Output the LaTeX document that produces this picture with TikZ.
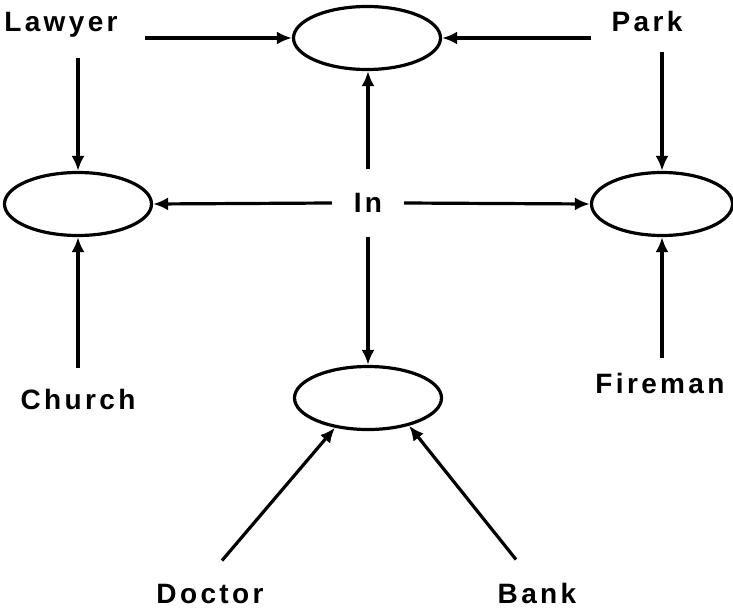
\documentclass[tikz,border=0pt]{standalone}
\usepackage{fontspec}
\setmainfont{Liberation Sans}[LetterSpace=12]
\usetikzlibrary{shapes.geometric,arrows.meta}
\begin{document}
\begin{tikzpicture}[x=1pt,y=-1pt,
  slot/.style={ellipse,draw,line width=3.2pt,inner sep=0pt,minimum width=147pt,minimum height=63pt},
  word/.style={font=\fontsize{28pt}{30pt}\selectfont\bfseries,inner sep=0pt,anchor=base},
  arr/.style={line width=3.2pt,-{Latex[length=15pt,width=13pt]}}]
\useasboundingbox (0,0) rectangle (733,610);
% the five empty slots
\node[slot] (top) at (367,38) {};
\node[slot] (lft) at (78,204) {};
\node[slot,minimum width=141pt] (rgt) at (662,204) {};
\node[slot] (bot) at (368,398) {};
% labels
\node[word] (lawyer) at (61,32) {Lawyer};
\node[word] (park) at (647,32) {Park};
\node[word,anchor=center,minimum width=72pt,minimum height=67pt] (in) at (368,203) {In};
\node[word] (church) at (78,409) {Church};
\node[word] (fireman) at (660,393) {Fireman};
\node[word] (doctor) at (210,603) {Doctor};
\node[word] (bank) at (537,603) {Bank};
% connectors
\draw[arr] ([xshift=27pt]lawyer.east |- top.west) -- (top.west);
\draw[arr] ([xshift=-20pt]park.west |- top.east) -- (top.east);
\draw[arr] ([yshift=-20pt]lawyer.south -| lft.north) -- (lft.north);
\draw[arr] ([yshift=-20pt]park.south -| rgt.north) -- (rgt.north);
\draw[arr] (in.north) -- (in.north |- top.south);
\draw[arr] (in.west) -- (lft.east);
\draw[arr] (in.east) -- (rgt.west);
\draw[arr] (in.south) -- (in.south |- bot.north);
\draw[arr] ([yshift=21pt]church.north -| lft.south) -- (lft.south);
\draw[arr] ([yshift=15pt]fireman.north -| rgt.south) -- (rgt.south);
\draw[arr] ([xshift=12pt,yshift=23pt]doctor.north) -- (bot.-138);
\draw[arr] ([xshift=-21pt,yshift=23pt]bank.north) -- (bot.-34);
\end{tikzpicture}
\end{document}
